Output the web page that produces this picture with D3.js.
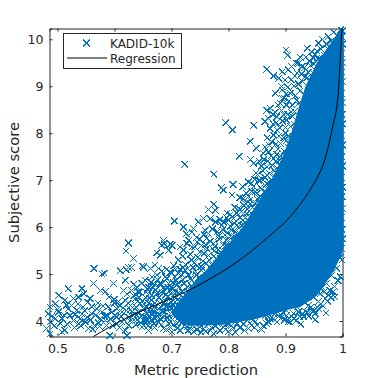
<!DOCTYPE html>
<html>
<head>
<meta charset="utf-8">
<script src="https://cdn.jsdelivr.net/npm/d3@7"></script>
<style>
  html, body { margin: 0; padding: 0; background: #fff; }
  text { font-family: "DejaVu Sans", sans-serif; fill: #262626; }
</style>
</head>
<body>
<div id="chart"></div>
<script>
let xTicks = [0.5, 0.6, 0.7, 0.8, 0.9, 1]
let yTicks = [4, 5, 6, 7, 8, 9, 10]

let regressionX = [0.563, 0.619, 0.651, 0.692, 0.733, 0.768, 0.815, 0.867, 0.908, 0.943, 0.955, 0.967, 0.975, 0.984, 0.990, 0.993, 0.996, 0.999]
let regressionY = [3.67, 4.05, 4.23, 4.44, 4.67, 4.90, 5.26, 5.76, 6.22, 6.79, 7.04, 7.36, 7.71, 8.21, 8.56, 8.92, 9.56, 10.23]

// outline of the part where the crosses merge into a solid blob
let solidX = [1.002, 0.995, 0.984, 0.955, 0.935, 0.922, 0.91, 0.895, 0.875, 0.85, 0.825, 0.79, 0.755, 0.725, 0.70, 0.715, 0.73, 0.79, 0.85, 0.908, 0.926, 0.956, 0.984, 0.996, 1.002]
let solidY = [10.2, 10.2, 10.0, 9.5, 9.0, 8.5, 8.0, 7.5, 7.0, 6.5, 6.0, 5.5, 5.0, 4.6, 4.2, 4.0, 3.9, 3.92, 4.05, 4.25, 4.3, 4.55, 5.05, 5.35, 5.55]

// single crosses, read by eye, x = metric prediction, y = subjective score
let lowTail = [
  [.6246,5.66],[.6205,5.49],[.633,5.33],[.564,5.12],[.582,5.02],[.578,5.0],[.625,5.14],[.621,5.09],[.63,5.14],[.648,5.17],
  [.61,5.07],[.598,4.8],[.563,4.8],[.575,4.65],[.519,4.69],[.543,4.69],[.502,4.55],[.546,4.58],[.496,4.37],[.513,4.44],
  [.528,4.48],[.537,4.51],[.557,4.48],[.59,4.51],[.584,4.62],[.619,4.87],[.616,4.65],[.622,4.58],[.63,4.65],[.645,4.62],
  [.487,4.3],[.484,4.15],[.487,3.98],[.481,3.84],[.487,3.73],[.502,4.19],[.508,4.05],[.519,4.26],[.525,4.33],[.534,4.23],
  [.522,4.12],[.513,3.8],[.508,3.77],[.537,3.94],[.549,3.98],[.554,3.84],[.552,4.08],[.56,4.15],[.569,4.26],[.578,4.19],
  [.587,4.12],[.595,4.19],[.604,4.26],[.601,4.12],[.613,4.19],[.619,4.44],[.628,4.33],[.636,4.47],[.645,4.37],[.651,4.26],
  [.625,4.08],[.633,4.12],[.642,4.19],[.592,3.69],[.619,3.8],[.622,3.69],[.648,3.87],[.584,4.01],[.575,4.05],[.54,4.05],
  [.496,4.05],[.528,4.01],[.604,3.94],[.613,3.98],[.625,3.91],[.5,4.25],[.49,4.1],[.494,3.9],[.505,3.95],[.517,3.93],
  [.53,3.86],[.543,4.15],[.565,3.9],[.572,3.96],[.56,4.3],[.545,4.3],[.6,4.38],[.61,4.33],[.64,4.03],[.655,4.5]
]
let midCloud = [
  [.674,5.45],[.687,5.65],[.701,5.61],[.695,5.51],[.68,5.4],[.727,5.65],[.736,5.58],[.721,5.51],[.745,5.68],[.75,5.47],
  [.671,5.19],[.663,5.12],[.651,5.15],[.677,5.12],[.698,5.04],[.706,4.94],[.689,4.94],[.666,4.94],[.654,4.87],[.68,4.8],
  [.66,4.72],[.672,4.66],[.685,4.7],[.695,4.8],[.71,4.78],[.72,4.88],[.73,4.98],[.715,5.1],[.725,5.2],[.735,5.3],
  [.745,5.18],[.755,5.28],[.742,5.05],[.735,4.86],[.748,4.92],[.76,5.05],[.77,5.2],[.765,5.4],[.775,5.5],[.785,5.42],
  [.78,5.3],[.79,5.62],[.8,5.72],[.762,5.55],[.712,4.6],[.702,4.68],[.69,4.56],[.678,4.5],[.665,4.55],[.655,4.62],
  [.66,4.38],[.67,4.3],[.68,4.38],[.69,4.3],[.7,4.4],[.71,4.35],[.72,4.5],[.73,4.62],[.725,4.4],[.715,4.2],
  [.705,4.18],[.695,4.12],[.685,4.2],[.675,4.1],[.665,4.15],[.655,4.08],[.66,4.25],[.7,4.28],[.665,4.02],[.68,4.05],
  [.651,3.91],[.66,3.8],[.669,3.94],[.686,3.84],[.701,3.77],[.715,3.8],[.727,3.87],[.657,4.01],[.677,3.98],[.695,3.94],
  [.709,3.94],[.721,4.01],[.71,4.05],[.69,4.02],[.72,4.12],[.73,4.08],[.723,4.25],[.735,4.75],[.705,4.5],[.665,4.45],
  [.74,3.95],[.75,3.87],[.735,3.82],[.739,3.77],[.756,3.84],[.774,3.73],[.791,3.87],[.809,3.84],[.826,3.94],[.841,3.91],
  [.856,3.84],[.873,4.05],[.891,4.05],[.905,3.98],[.765,3.92],[.78,3.95],[.8,3.94],[.815,3.95],[.833,4.02],[.858,3.82],
  [.847,3.98],[.864,4.1],[.84,4.05],[.82,4.0],[.88,4.15],[.75,3.95],[.76,3.78]
]
let upperEdge = [
  [.723,7.34],[.774,7.13],[.819,7.51],[.839,7.44],[.844,7.36],[.808,6.91],[.787,6.84],[.791,6.79],[.806,6.68],[.835,6.96],
  [.82,6.63],[.844,6.86],[.847,6.75],[.853,7.0],[.705,6.13],[.774,6.49],[.777,6.36],[.765,6.37],[.797,6.3],[.818,6.4],
  [.823,6.33],[.756,6.18],[.747,6.11],[.768,6.18],[.777,6.11],[.8,6.15],[.809,6.18],[.721,6.0],[.736,5.9],[.739,5.97],
  [.726,5.86],[.686,5.72],[.698,5.64],[.683,5.61],[.715,5.58],[.73,5.72],[.744,5.78],[.759,5.93],[.78,5.9],[.794,5.83],
  [.762,5.76],[.774,5.65],[.741,5.58],[.753,5.61],[.788,6.04],[.806,5.93],[.823,6.04],[.838,6.5],[.83,6.2],[.815,6.05],
  [.795,8.22],[.807,8.07],[.844,8.17],[.838,7.83],[.849,7.68],[.867,9.36],[.879,9.22],[.894,9.31],[.888,9.17],[.901,9.77],
  [.904,9.66],[.92,9.49],[.936,9.62],[.946,9.73],[.938,9.81],[.958,9.92],[.965,10.0],[.997,10.2],[.861,7.57],[.864,7.71],
  [.87,8.32],[.864,8.25],[.873,8.53],[.882,8.85],[.899,9.13],[.894,8.92],[.911,9.42],[.923,9.49],[.905,9.35],[.92,9.28],
  [.891,8.64],[.902,8.6],[.867,8.49],[.885,8.35],[.897,8.39],[.873,8.1],[.885,8.07],[.876,7.82],[.891,7.78],[.87,7.6],
  [.879,7.46],[.902,8.28],[.908,8.85],[.929,9.42],[.949,9.6],[.93,9.1],[.915,9.0],[.92,8.7],[.91,8.45],[.915,8.2],
  [.9,8.0],[.905,7.7],[.893,7.3],[.88,7.2],[.868,7.1],[.858,7.3],[.87,6.9],[.858,6.8],[.85,6.6],[.835,6.65],
  [.83,6.5],[.84,6.3],[.825,6.15],[.81,5.8],[.795,5.6],[.785,5.2],[.848,7.15],[.855,6.55],[.875,7.0],[.885,7.55],
  [.955,9.75],[.975,10.05],[.985,10.15],[.94,9.3],[.935,9.2],[.955,9.6],[.897,8.75],[.882,8.45]
]
let bottomEdge = [
  [.908,3.98],[.927,3.93],[.952,4.03],[.971,4.17],[.952,4.16],[.984,4.62],[.987,4.51],[.978,4.65],[.97,4.48],[.94,4.33],
  [.923,4.19],[.902,4.12],[.879,4.05],[.894,4.09],[.864,4.16],[.914,4.16],[.955,4.3],[.961,4.58],[.996,4.94],[.99,5.12],
  [.981,4.97],[.972,4.8],[.964,4.72],[.949,4.51],[.934,4.4],[.946,4.23],[.932,4.09],[.996,5.36],[.841,3.91],[.92,4.3],
  [.9,4.25],[.885,4.22],[.938,4.18],[.958,4.42],[.975,4.55],[.745,3.82],[.77,3.86],[.785,3.8],[.8,3.78],[.82,3.86],
  [.835,3.84],[.85,3.92],[.866,3.95],[.885,3.98],[.898,4.02],[.915,4.05],[.93,4.15],[.945,4.3],[.962,4.36],[.968,4.62],
  [.752,3.76],[.768,3.8],[.778,3.9],[.795,3.82],[.805,3.9],[.812,3.76],[.828,3.8],[.838,3.96],[.846,3.86],[.861,3.9],
  [.87,3.98],[.876,4.08],[.888,4.1],[.896,4.16],[.91,4.1],[.918,4.0],[.925,4.1],[.935,4.2],[.941,4.1],[.95,4.22],
  [.958,4.26],[.966,4.32],[.974,4.42],[.98,4.5],[.986,4.74],[.992,4.86]
]
let rightEdge = [
  [.999,5.3],[.998,5.55],[1,5.75],[.999,5.95],[.998,6.2],[1,6.4],[.999,6.65],[1,6.85],[.998,7.05],[1,7.3],
  [.999,7.5],[1,7.75],[.998,7.95],[1,8.2],[.999,8.4],[1,8.65],[.998,8.85],[1,9.1],[.999,9.3],[1,9.5],
  [.998,9.7],[1,9.9],[.999,10.05],[1,10.18]
]
// the crowded strip just left of the solid part, low scores first
let denseFringe = [
  [.628,4.24],[.634,4.02],[.638,4.3],[.641,4.42],[.647,4.1],[.652,4.36],[.657,4.16],[.662,4.48],[.668,4.22],[.671,4.38],
  [.674,4.58],[.676,4.16],[.681,4.3],[.683,4.62],[.687,4.1],[.689,4.42],[.692,4.24],[.694,4.52],[.697,4.64],[.699,4.06],
  [.702,4.34],[.704,4.16],[.706,4.58],[.708,4.26],[.711,4.46],[.713,4.72],[.716,4.32],[.718,4.62],[.72,4.42],[.722,4.8],
  [.725,4.55],[.728,4.72],[.731,4.48],[.733,4.9],[.737,4.66],[.74,4.82],[.744,4.98],[.747,4.76],[.75,4.88],[.752,5.08],
  [.64,4.72],[.648,4.8],[.664,4.82],[.676,4.88],[.692,4.9],[.7,4.72],[.708,4.86],[.718,4.98],[.724,5.08],[.738,5.14],
  [.704,5.18],[.712,5.3],[.72,5.38],[.728,5.12],[.733,5.42],[.74,5.24],[.746,5.36],[.752,5.16],[.757,5.44],[.761,5.22],
  [.766,5.3],[.77,5.12],[.774,5.38],[.778,5.24],[.782,5.52],[.786,5.32],[.76,5.62],[.768,5.7],[.776,5.58],[.784,5.74],
  [.79,5.5],[.796,5.72],[.8,5.56],[.805,5.82],[.75,5.74],[.757,5.84],[.765,5.86],[.772,5.96],[.783,5.8],[.79,5.94],
  [.798,5.88],[.803,6.02],[.812,5.9],[.817,6.0],[.82,5.86],[.785,6.16],[.792,6.1],[.797,6.2],[.803,6.26],[.81,6.08],
  [.814,6.3],[.82,6.2],[.826,6.06],[.832,6.28],[.836,6.12],[.842,6.42],[.846,6.22],[.811,6.42],[.827,6.46],[.833,6.38],
  [.826,6.6],[.831,6.72],[.838,6.58],[.841,6.76],[.846,6.5],[.85,6.72],[.853,6.62],[.856,6.84],[.861,6.6],[.864,6.76],
  [.867,6.92],[.871,6.7],[.825,6.86],[.84,6.92],[.846,7.02],[.851,7.12],[.856,7.0],[.86,7.2],[.864,7.06],[.868,7.28],
  [.872,7.14],[.877,7.32],[.881,7.08],[.885,7.26],[.889,7.42],[.854,7.4],[.862,7.44],[.869,7.4],[.875,7.52],[.883,7.4],
  [.887,7.66],[.892,7.52],[.897,7.62],[.901,7.84],[.897,7.9],[.889,7.94],[.883,7.76],[.872,7.74],[.868,7.9],[.879,7.96],
  [.905,7.94],[.878,8.2],[.884,8.22],[.89,8.12],[.895,8.26],[.9,8.12],[.904,8.4],[.909,8.14],[.878,8.4],[.893,8.48],
  [.912,8.36],[.916,8.46],[.887,8.6],[.895,8.74],[.901,8.84],[.906,8.68],[.912,8.6],[.917,8.8],[.922,8.62],[.926,8.9],
  [.893,9.0],[.904,8.98],[.91,9.14],[.917,9.22],[.923,9.05],[.928,9.26],[.933,9.4],[.938,9.18],[.944,9.44],[.948,9.28],
  [.926,9.62],[.942,9.54],[.95,9.48],[.952,9.68],[.958,9.58],[.962,9.8],[.968,9.66],[.972,9.9],[.976,9.78],[.98,9.96]
]
// second pass over the low left part, where the crosses are thick
let lowCloud = [
  [.512,4.12],[.516,4.34],[.531,4.14],[.536,4.36],[.541,3.9],[.548,4.22],[.553,4.4],[.558,4.02],[.562,3.82],[.567,4.12],
  [.571,4.38],[.574,3.88],[.58,4.32],[.583,4.1],[.586,3.9],[.589,4.3],[.593,4.04],[.597,3.9],[.599,4.46],[.603,4.08],
  [.607,4.42],[.609,3.86],[.612,4.1],[.615,4.28],[.617,4.02],[.621,4.22],[.624,4.38],[.627,4.0],[.631,4.2],[.634,4.54],
  [.637,3.92],[.639,4.12],[.643,4.5],[.646,3.96],[.649,4.44],[.653,4.0],[.656,4.3],[.659,3.9],[.663,4.1],[.666,4.34],
  [.67,3.86],[.673,4.08],[.678,4.26],[.682,3.92],[.684,4.14],[.688,4.36],[.691,3.82],[.693,4.06],[.696,4.3],[.698,3.86],
  [.703,3.92],[.707,4.1],[.711,3.86],[.714,4.14],[.717,3.96],[.719,4.3],[.724,3.92],[.726,4.16],[.729,3.8],[.732,4.0],
  [.634,4.78],[.642,4.62],[.658,4.68],[.668,4.72],[.682,4.78],[.687,4.62],[.693,4.72],[.703,4.82],[.675,4.98],[.683,5.06],
  [.692,5.1],[.7,5.02],[.712,5.02],[.72,5.14],[.707,5.1],[.67,4.78]
]
let crosses = lowTail.concat(midCloud, upperEdge, bottomEdge, rightEdge, denseFringe, lowCloud)

let
  width = 378,
  height = 378,
  plotLeft = 49.5,
  plotRight = 342.5,
  plotTop = 28.5,
  plotBottom = 336.5

let
  xScale = d3.scaleLinear().domain([0.486, 1]).range([plotLeft, plotRight]),
  yScale = d3.scaleLinear().domain([3.67, 10.23]).range([plotBottom, plotTop])

let svg = d3.select("#chart").append("svg")
  .attr("width", width)
  .attr("height", height)
  .style("display", "block")

// x axis
let xAxis = d3.axisBottom(xScale).tickValues(xTicks).tickSize(-3).tickPadding(8).tickFormat(d3.format("~g"))
let xAxisTop = d3.axisTop(xScale).tickValues(xTicks).tickSize(-3).tickFormat("")
svg.append("g").attr("transform", "translate(0," + plotBottom + ")").call(xAxis)
svg.append("g").attr("transform", "translate(0," + plotTop + ")").call(xAxisTop)

// y axis
let yAxis = d3.axisLeft(yScale).tickValues(yTicks).tickSize(-3).tickPadding(6).tickFormat(d3.format("d"))
let yAxisRight = d3.axisRight(yScale).tickValues(yTicks).tickSize(-3).tickFormat("")
svg.append("g").attr("transform", "translate(" + plotLeft + ",0)").call(yAxis)
svg.append("g").attr("transform", "translate(" + plotRight + ",0)").call(yAxisRight)

svg.selectAll(".domain, .tick line").attr("stroke", "#262626").attr("stroke-width", 1)
svg.selectAll(".tick text").style("font-size", "12.5px").style("font-family", "DejaVu Sans").attr("fill", "#262626")

svg.append("text")
  .attr("x", (plotLeft + plotRight) / 2)
  .attr("y", 375)
  .attr("text-anchor", "middle")
  .style("font-size", "14.7px")
  .text("Metric prediction")
svg.append("text")
  .attr("transform", "translate(19," + (plotTop + plotBottom) / 2 + ") rotate(-90)")
  .attr("text-anchor", "middle")
  .style("font-size", "14.7px")
  .text("Subjective score")

let blue = "#0072BD"
let marker = d3.symbol(d3.symbolTimes, 30)

// solid part of the cloud
let solidLine = d3.line().x(i => xScale(solidX[i])).y(i => yScale(solidY[i]))
svg.append("path")
  .attr("d", solidLine(d3.range(solidX.length)) + "Z")
  .attr("fill", blue)

svg.selectAll(".cross")
  .data(crosses)
  .enter()
  .append("path")
  .attr("class", "cross")
  .attr("d", marker)
  .attr("transform", d => "translate(" + xScale(d[0]) + "," + yScale(d[1]) + ")")
  .attr("fill", "none")
  .attr("stroke", blue)
  .attr("stroke-width", 1)
  .attr("shape-rendering", "crispEdges")

let regressionLine = d3.line()
  .x(i => xScale(regressionX[i]))
  .y(i => yScale(regressionY[i]))
  .curve(d3.curveMonotoneX)
svg.append("path")
  .attr("d", regressionLine(d3.range(regressionX.length)))
  .attr("fill", "none")
  .attr("stroke", "black")
  .attr("stroke-width", 1)

// legend
let legend = svg.append("g")
legend.append("rect")
  .attr("x", 63.5).attr("y", 33.5)
  .attr("width", 118).attr("height", 35)
  .attr("fill", "white").attr("stroke", "#262626").attr("stroke-width", 1)
legend.append("path")
  .attr("d", marker)
  .attr("transform", "translate(86.5,43)")
  .attr("fill", "none").attr("stroke", blue).attr("stroke-width", 1)
  .attr("shape-rendering", "crispEdges")
legend.append("line")
  .attr("x1", 67).attr("x2", 107).attr("y1", 58).attr("y2", 58)
  .attr("stroke", "black").attr("stroke-width", 1)
legend.append("text").attr("x", 110).attr("y", 48).style("font-size", "12px").text("KADID-10k")
legend.append("text").attr("x", 110).attr("y", 63).style("font-size", "12px").text("Regression")
</script>
</body>
</html>
